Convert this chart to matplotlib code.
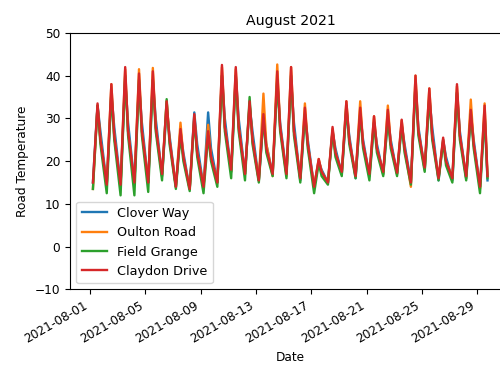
import matplotlib
matplotlib.use("Agg")
import matplotlib.pyplot as plt
import matplotlib.dates as mdates
import pandas as pd

# Daily readings, 1-29 August 2021: early-morning low (05:00),
# early-afternoon high (13:00) and early-evening value (18:00), in degrees C.
days = pd.date_range("2021-08-01", periods=29, freq="D")
hours = [5, 13, 18]

clover_low = [15, 14.5, 14.5, 15, 15, 16.5, 14, 13.5, 14, 15, 17.5, 17, 15.5, 17, 17,
              15.5, 14, 15, 17, 16, 16.5, 17, 17, 15, 18, 15.5, 15.5, 16, 14]
clover_high = [33, 36, 39, 38, 39, 32, 27, 31.4, 31.4, 40, 40, 33, 30, 39, 39,
               31, 20, 27, 32, 31, 29, 30, 28.5, 38, 35, 25, 36, 31, 31]
clover_eve = [27, 28, 29, 29, 30, 26, 22, 24, 23, 30, 30, 27, 24, 29, 29,
              25, 18, 23, 26, 25, 24, 25, 24, 28, 28, 21, 27, 25, 15.5]

oulton_low = [13.5, 14.5, 14, 14.5, 15, 16.5, 14, 13.5, 14, 15, 17.5, 17, 15.5, 16.5, 16.5,
              16, 14, 15, 17, 16.5, 16.5, 17, 17, 14, 18, 16, 16, 16, 13.5]
oulton_high = [33, 38, 41.5, 41.5, 41.8, 34, 29, 30.5, 28.5, 42, 41.5, 33.5, 35.8, 42.6, 42,
               33.5, 20.5, 27.5, 34, 34, 30.5, 33, 29.5, 40, 37, 25, 37.5, 34.4, 33.5]
oulton_eve = [25, 26, 27, 27, 28, 25, 21, 22, 21, 28, 28, 25, 24, 28, 27,
              24, 17.5, 22, 25, 24, 23, 24, 23, 27, 26, 20, 26, 24, 16.5]

field_low = [13.5, 12.5, 12, 12, 12.8, 15.5, 13.5, 13, 12.5, 14, 16, 15.5, 15, 16.5, 16,
             15, 12.5, 14.5, 16.5, 16, 15.5, 16.5, 16.5, 14.5, 17.5, 15.5, 15, 15.5, 12.5]
field_high = [33, 36, 40, 39, 39, 34.5, 26, 30, 26, 40, 40, 35, 30, 39, 40,
              31, 19.5, 27, 33, 31, 29, 30, 28.5, 38, 35, 24.5, 36, 31, 31]
field_eve = [24, 25, 26, 26, 27, 24, 20, 21, 20, 27, 27, 24, 22, 27, 26,
             23, 16.5, 21, 24, 23, 22, 23, 22, 26, 25, 19, 25, 23, 16]

claydon_low = [15, 14.5, 14.5, 15, 15, 17, 14, 13.5, 14, 15, 18, 17, 15.5, 17, 17,
               16, 14, 15, 17.5, 16.5, 17, 17.5, 17.3, 15, 18.5, 16, 16, 16.5, 14]
claydon_high = [33.5, 38, 42, 40.5, 41, 34, 27.5, 31, 27, 42.5, 42, 34, 31, 41, 42,
                32.5, 20.5, 28, 34, 32.5, 30.5, 32, 29.7, 40, 37, 25.5, 38, 32, 33]
claydon_eve = [25, 26, 27, 27, 28, 25, 21, 22, 21, 28, 28, 25, 23, 28, 27,
               24, 17.5, 22, 25, 24, 23, 24, 23, 27, 26, 20, 26, 24, 16.5]

series = [
    ("Clover Way", clover_low, clover_high, clover_eve),
    ("Oulton Road", oulton_low, oulton_high, oulton_eve),
    ("Field Grange", field_low, field_high, field_eve),
    ("Claydon Drive", claydon_low, claydon_high, claydon_eve),
]


def readings(low, high, eve):
    """Put the three daily readings of one road in time order."""
    times, values = [], []
    for day, lo, hi, ev in zip(days, low, high, eve):
        for h, v in zip(hours, (lo, hi, ev)):
            times.append(day + pd.Timedelta(hours=h))
            values.append(v)
    return times, values


plt.rcParams["font.family"] = "DejaVu Sans"
plt.rcParams["font.size"] = 8.7

fig = plt.figure(figsize=(5.0, 3.65), dpi=100)
ax = fig.add_axes([0.14, 0.207, 0.882, 0.703])

for name, low, high, eve in series:
    t, v = readings(low, high, eve)
    ax.plot(t, v, label=name, linewidth=1.7)

ax.set_xlim(pd.Timestamp("2021-08-01") - pd.Timedelta(days=1.45),
            pd.Timestamp("2021-08-30") + pd.Timedelta(days=1.45))
ax.set_ylim(-10, 50)
ax.set_yticks([-10, 0, 10, 20, 30, 40, 50])
ax.xaxis.set_major_locator(mdates.DayLocator(bymonthday=[1, 5, 9, 13, 17, 21, 25, 29]))
ax.xaxis.set_major_formatter(mdates.DateFormatter("%Y-%m-%d"))
for lab in ax.get_xticklabels():
    lab.set_rotation(30)
    lab.set_ha("right")

ax.set_title("August 2021", fontsize=10.2)
ax.set_xlabel("Date")
ax.set_ylabel("Road Temperature")
ax.legend(loc="lower left", fontsize=9.2)

fig.savefig("out.png", dpi=100)
